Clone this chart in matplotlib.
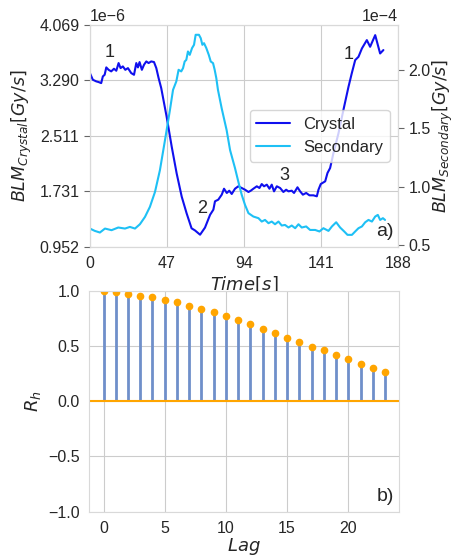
import matplotlib.pyplot as plt
import numpy as np
import seaborn as sns

# BLM readings (time in s, dose rate in Gy/s)
t_crystal = [0, 1.8, 3.9, 5.3, 6.9, 7.9, 9, 10, 11.4, 13,
             14.7, 16.1, 17.5, 18.7, 20.1, 21.6, 23.2, 25.2, 26.9, 28.3,
             29.3, 30.3, 31.7, 33, 34.4, 35.8, 37.4, 39.1, 40.5, 41.9,
             43.5, 46.8, 49.9, 52.9, 56, 59, 62, 64.1, 67.2, 70.2,
             73.3, 75.3, 76.3, 78.3, 80.4, 81.8, 83.5, 85, 86.5, 88.5,
             90.5, 92.6, 94.6, 96.7, 98.1, 99.7, 101.8, 103.4, 104.8, 106.2,
             107.9, 109.5, 110.9, 112.3, 114, 116, 118, 119.7, 121.1, 123.1,
             124.5, 126.6, 128.2, 129.9, 131.9, 133.9, 136.3, 138.4, 139.4, 140.8,
             143.5, 144.9, 146.5, 148.5, 151.6, 154.6, 157.7, 159.7, 161.8, 163.8,
             165.9, 168.9, 170.9, 174, 177, 179]
crystal = [3.394, 3.30, 3.277, 3.268, 3.253, 3.347, 3.37, 3.474, 3.44, 3.418,
           3.455, 3.427, 3.535, 3.464, 3.488, 3.44, 3.464, 3.394, 3.37, 3.535,
           3.474, 3.549, 3.44, 3.511, 3.558, 3.535, 3.558, 3.549, 3.464, 3.324,
           3.183, 2.78, 2.358, 1.984, 1.655, 1.42, 1.21, 1.18, 1.12, 1.22,
           1.40, 1.472, 1.59, 1.613, 1.683, 1.767, 1.707, 1.739, 1.693, 1.767,
           1.801, 1.777, 1.753, 1.721, 1.739, 1.767, 1.801, 1.777, 1.833, 1.801,
           1.824, 1.767, 1.824, 1.73, 1.801, 1.777, 1.721, 1.753, 1.73, 1.739,
           1.707, 1.787, 1.73, 1.683, 1.707, 1.674, 1.674, 1.66, 1.753, 1.833,
           1.871, 1.988, 2.058, 2.265, 2.546, 2.874, 3.2, 3.39, 3.577, 3.623,
           3.741, 3.858, 3.764, 3.928, 3.67, 3.718]
crystal = [v * 1e-6 for v in crystal]

t_secondary = [0, 3, 6.1, 9.2, 13.2, 17.3, 21.4, 24.4, 27.5, 30.5,
               33.6, 36.6, 39.7, 42.7, 45.8, 48.8, 50.7, 52.7, 54.1, 55.7,
               56.8, 57.8, 58.8, 59.8, 60.9, 62.3, 63.5, 64.5, 66.5, 67.6,
               68.6, 69.6, 71, 72.5, 73.7, 75.1, 76.1, 77.1, 78.1, 80.4,
               83.4, 85.5, 88.5, 90.5, 92.6, 94.6, 96.7, 99.7, 102.8, 104.8,
               106.8, 108.9, 110.9, 112.9, 115, 117, 119, 121.1, 123.1, 125.2,
               127.2, 129.2, 131.9, 134.3, 137.4, 140, 142.4, 145.5, 147.6, 150.2,
               152.6, 155.1, 157.1, 159.8, 161.8, 163.8, 165.9, 167.9, 169.9, 172,
               174, 175.6, 177, 178.7, 180]
secondary = [0.642, 0.622, 0.608, 0.642, 0.628, 0.651, 0.642, 0.656, 0.642, 0.679,
             0.742, 0.828, 0.956, 1.142, 1.40, 1.657, 1.831, 1.903, 2.003, 1.989,
             2.017, 2.074, 2.088, 2.16, 2.131, 2.189, 2.217, 2.303, 2.303, 2.274,
             2.217, 2.231, 2.189, 2.131, 2.074, 2.06, 2.003, 1.931, 1.831, 1.671,
             1.485, 1.314, 1.16, 1.045, 0.931, 0.845, 0.774, 0.745, 0.731, 0.702,
             0.716, 0.688, 0.702, 0.679, 0.702, 0.668, 0.673, 0.651, 0.668, 0.645,
             0.679, 0.651, 0.66, 0.63, 0.63, 0.617, 0.645, 0.622, 0.66, 0.696,
             0.651, 0.617, 0.588, 0.588, 0.617, 0.645, 0.66, 0.696, 0.716, 0.702,
             0.745, 0.759, 0.716, 0.731, 0.716]
secondary = [v * 1e-4 for v in secondary]

# autocorrelation
lags = list(range(24))
acf = [1.0, 0.991, 0.970, 0.955, 0.943, 0.915, 0.894, 0.864, 0.831, 0.804, 0.767,
       0.734, 0.695, 0.653, 0.613, 0.571, 0.538, 0.495, 0.459, 0.420, 0.378, 0.341,
       0.299, 0.263]

time_ticks = [0, 47, 94, 141, 188]
crystal_ticks = [0.952e-6, 1.731e-6, 2.511e-6, 3.290e-6, 4.069e-6]
secondary_ticks = [0.5e-4, 1.0e-4, 1.5e-4, 2.0e-4]

sns.set_style('whitegrid')
plt.rcParams['font.family'] = ['Liberation Sans', 'DejaVu Sans']
plt.rcParams['xtick.labelsize'] = 11.5
plt.rcParams['ytick.labelsize'] = 11.5

fig = plt.figure(figsize=(4.54, 5.58), dpi=100)
ax1 = fig.add_axes([0.198, 0.558, 0.679, 0.397])
ax2 = ax1.twinx()

l1, = ax1.plot(t_crystal, crystal, color='#1010ee', lw=1.5, label='Crystal')
l2, = ax2.plot(t_secondary, secondary, color='#1ec0f5', lw=1.5, label='Secondary')

ax1.set_xlim(0, 188)
ax1.set_xticks(time_ticks)
ax1.set_ylim(0.952e-6, 4.069e-6)
ax1.set_yticks(crystal_ticks)
ax2.set_ylim(0.487e-4, 2.386e-4)
ax2.set_yticks(secondary_ticks)
ax2.grid(False)
for a in (ax1, ax2):
    a.ticklabel_format(axis='y', style='sci', scilimits=(0, 0))
    a.tick_params(axis='y', length=4, width=0.8, color='0.4')
    a.yaxis.get_offset_text().set_fontsize(11.5)
    for s in a.spines.values():
        s.set_color('0.85')

ax1.set_xlabel('$Time[s]$', fontsize=13, labelpad=2)
ax1.set_ylabel('$BLM_{Crystal}[Gy/s]$', fontsize=12.5)
ax2.set_ylabel('$BLM_{Secondary}[Gy/s]$', fontsize=12.5, labelpad=0)
ax1.legend(handles=[l1, l2], loc='center right', fontsize=12)

ax1.text(12.2, 3.689e-6, '1', fontsize=13, ha='center', va='center')
ax1.text(68.2, 1.482e-6, '2', fontsize=13, ha='center', va='center')
ax1.text(118.4, 1.946e-6, '3', fontsize=13, ha='center', va='center')
ax1.text(158, 3.66e-6, '1', fontsize=13, ha='center', va='center')
ax1.text(0.985, 0.03, 'a)', fontsize=14, ha='right', va='bottom', transform=ax1.transAxes)

ax3 = fig.add_axes([0.197, 0.083, 0.682, 0.396])
ax3.vlines(lags, 0, acf, color='#6f8fca', lw=2)
ax3.plot(lags, acf, 'o', color='orange', ms=4.5)
ax3.axhline(0, color='orange', lw=1.5)
ax3.set_ylim(-1, 1)
ax3.set_yticks([-1, -0.5, 0, 0.5, 1])
ax3.set_xlabel('$Lag$', fontsize=13, labelpad=0)
ax3.set_ylabel('$R_h$', fontsize=13)
for s in ax3.spines.values():
    s.set_color('0.85')
ax3.text(0.985, 0.03, 'b)', fontsize=14, ha='right', va='bottom', transform=ax3.transAxes)

fig.savefig('out.png', dpi=100)
